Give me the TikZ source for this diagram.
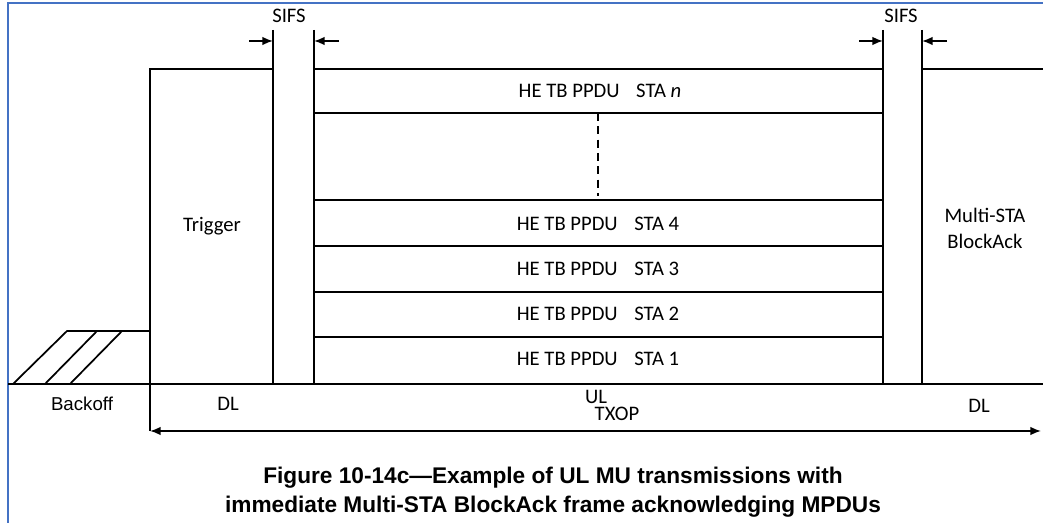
\documentclass[tikz,border=0pt]{standalone}
\usepackage{fontspec}
\setmainfont{Carlito}
\newfontfamily\arialfont{Liberation Sans}
\usetikzlibrary{arrows.meta,positioning}
\definecolor{frameblue}{HTML}{4472C4}

\begin{document}
\begin{tikzpicture}[x=0.75pt,y=-0.75pt,>={Latex[length=8pt,width=6.5pt]},line width=1.3pt,
  lbl/.style={font=\fontsize{15.5}{19.5}\selectfont,inner sep=0pt},
  arial/.style={font=\arialfont\fontsize{14}{17}\selectfont,inner sep=0pt}]
  \useasboundingbox (0,0) rectangle (1043,523);
  % frame (only top and left visible)
  \draw[frameblue,line width=1.6pt] (8,523) -- (8,3) -- (1043,3);

  % medium line
  \draw (8,384) -- (1043,384);

  % backoff hatching
  \draw (13,384) -- (67,331) -- (150,331);
  \draw (45,384) -- (97,331);
  \draw (70,384) -- (122,331);

  % trigger frame
  \draw (150,431) -- (150,69) -- (273,69) -- (273,384);
  \draw (273,30) -- (273,69);

  % HE TB PPDUs
  \draw (314,30) -- (314,384);
  \draw (883,30) -- (883,384);
  \foreach \y in {69,113,200,246,292,337}
    \draw (314,\y) -- (883,\y);
  \draw[line width=1.8pt,dash pattern=on 6pt off 4pt] (598,113) -- (598,196);

  % multi-STA BlockAck
  \draw (922,30) -- (922,384);
  \draw (922,69) -- (1043,69);

  % SIFS markers
  \coordinate (sifsAl) at (273,41);
  \coordinate (sifsAr) at (314,41);
  \coordinate (sifsAin) at (249,41);
  \coordinate (sifsAout) at (339,41);
  \draw[->] (sifsAin) -- (sifsAl);
  \draw[->] (sifsAout) -- (sifsAr);
  \coordinate (sifsBl) at (883,41);
  \coordinate (sifsBr) at (922,41);
  \coordinate (sifsBin) at (859,41);
  \coordinate (sifsBout) at (947,41);
  \draw[->] (sifsBin) -- (sifsBl);
  \draw[->] (sifsBout) -- (sifsBr);
  \node[lbl] (sifsA) at (289,16) {SIFS};
  \node[lbl] (sifsB) at (901,16) {SIFS};

  % labels
  \node[lbl] (trig) at (212,226) {Trigger};
  \node[lbl] (stan) at (600,91) {HE TB PPDU\hspace{0.8em}STA \textit{n}};
  \node[lbl] (sta4) at (598,224) {HE TB PPDU\hspace{0.8em}STA 4};
  \node[lbl] (sta3) at (598,269) {HE TB PPDU\hspace{0.8em}STA 3};
  \node[lbl] (sta2) at (598,314) {HE TB PPDU\hspace{0.8em}STA 2};
  \node[lbl] (sta1) at (598,359) {HE TB PPDU\hspace{0.8em}STA 1};
  \node[lbl,align=center] (mba) at (985,228) {Multi-STA\\BlockAck};

  \node[arial] (boff) at (82,404) {Backoff};
  \node[lbl] (dlA) at (228,404) {DL};
  \node[lbl] (ul) at (596,397) {UL};
  \node[lbl] (txop) at (617,414) {TXOP};
  \node[lbl] (dlB) at (979,406) {DL};

  % TXOP span
  \coordinate (txopl) at (150,431);
  \coordinate (txopr) at (1041,431);
  \draw[<->] (txopl) -- (txopr);

  % caption
  \node[font=\arialfont\bfseries\fontsize{17}{21.75}\selectfont,align=center,inner sep=0pt] (cap) at (553,492)
    {Figure 10-14c—Example of UL MU transmissions with\\immediate Multi-STA BlockAck frame acknowledging MPDUs};
\end{tikzpicture}
\end{document}
